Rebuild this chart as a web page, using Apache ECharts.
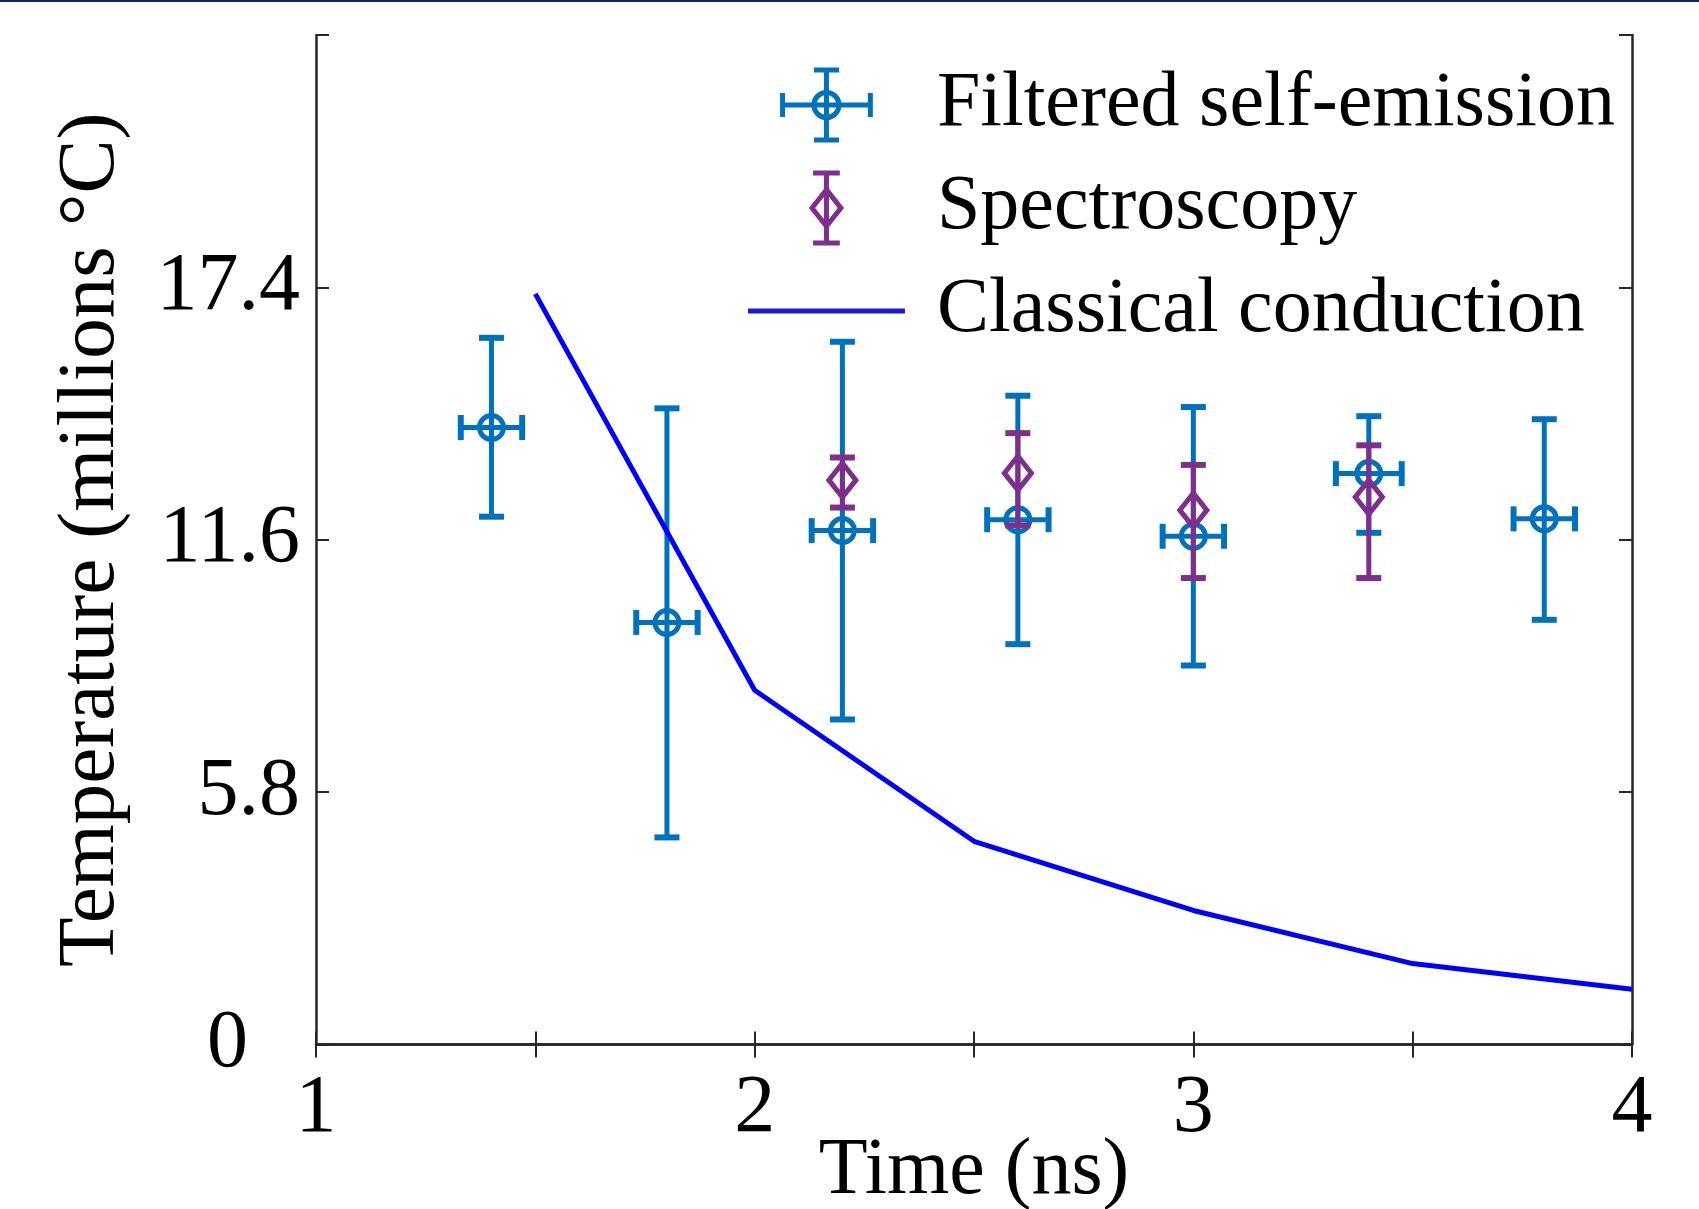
<!DOCTYPE html>
<html>
<head>
<meta charset="utf-8">
<title>Temperature vs time</title>
<script src="https://cdn.jsdelivr.net/npm/echarts@6/dist/echarts.min.js"></script>
<style>
  html, body { margin: 0; padding: 0; background: #fff; }
  #main { width: 1699px; height: 1209px; }
</style>
</head>
<body>
<div id="main"></div>
<script>
// filtered self-emission: time, temperature, error bar ends, time error
var emisX    = [1.4, 1.8, 2.2, 2.6, 3.0, 3.4, 3.8];
var emisY    = [14.18, 9.70, 11.81, 12.06, 11.68, 13.12, 12.08];
var emisLow  = [12.13, 4.76, 7.47, 9.20, 8.71, 11.76, 9.76];
var emisHigh = [16.24, 14.62, 16.15, 14.91, 14.65, 14.44, 14.37];
var emisXErr = [0.07, 0.07, 0.07, 0.07, 0.07, 0.075, 0.07];

// spectroscopy
var specX    = [2.2, 2.6, 3.0, 3.4];
var specY    = [12.97, 13.13, 12.28, 12.58];
var specLow  = [12.34, 11.93, 10.72, 10.72];
var specHigh = [13.49, 14.05, 13.32, 13.77];

// classical conduction model
var condX = [1.5, 2.0, 2.5, 3.0, 3.5, 4.0];
var condY = [17.25, 8.14, 4.67, 3.08, 1.86, 1.27];

var FONT = "'Liberation Serif', 'DejaVu Serif', serif";
var BLUE = '#0072BD';
var PURPLE = '#7E2F8E';
var LINE = '#0000FF';
var AXIS = '#262626';

var chart = echarts.init(document.getElementById('main'));

function seg(a, b, color, w) {
  return {
    type: 'line',
    shape: { x1: a[0], y1: a[1], x2: b[0], y2: b[1] },
    style: { stroke: color, lineWidth: w || 5 }
  };
}

function renderEmission(params, api) {
  var x = api.value(0), y = api.value(1);
  var c = api.coord([x, y]);
  var lo = api.coord([x, api.value(2)]);
  var hi = api.coord([x, api.value(3)]);
  var l = api.coord([x - api.value(4), y]);
  var r = api.coord([x + api.value(4), y]);
  var cap = 12.5;
  return {
    type: 'group',
    children: [
      seg(lo, hi, BLUE),
      seg([lo[0] - cap, lo[1]], [lo[0] + cap, lo[1]], BLUE, 6),
      seg([hi[0] - cap, hi[1]], [hi[0] + cap, hi[1]], BLUE, 6),
      seg(l, r, BLUE),
      seg([l[0], l[1] - cap], [l[0], l[1] + cap], BLUE, 6),
      seg([r[0], r[1] - cap], [r[0], r[1] + cap], BLUE, 6),
      {
        type: 'circle',
        shape: { cx: c[0], cy: c[1], r: 12 },
        style: { stroke: BLUE, lineWidth: 5, fill: null }
      }
    ]
  };
}

function renderSpec(params, api) {
  var x = api.value(0);
  var c = api.coord([x, api.value(1)]);
  var lo = api.coord([x, api.value(2)]);
  var hi = api.coord([x, api.value(3)]);
  var cap = 12.5, dw = 13.5, dh = 17;
  return {
    type: 'group',
    children: [
      seg(lo, hi, PURPLE),
      seg([lo[0] - cap, lo[1]], [lo[0] + cap, lo[1]], PURPLE, 6),
      seg([hi[0] - cap, hi[1]], [hi[0] + cap, hi[1]], PURPLE, 6),
      {
        type: 'polygon',
        shape: { points: [[c[0], c[1] - dh], [c[0] + dw, c[1]], [c[0], c[1] + dh], [c[0] - dw, c[1]]] },
        style: { stroke: PURPLE, lineWidth: 5, fill: null }
      }
    ]
  };
}

var axisLine = { lineStyle: { color: AXIS, width: 2.5 } };
var axisTick = { inside: true, length: 13, lineStyle: { color: AXIS, width: 2 } };
var tickFont = { fontFamily: FONT, fontSize: 82, color: '#000' };

var option = {
  animation: false,
  backgroundColor: '#fff',
  graphic: [
    { type: 'rect', left: 0, top: 0, shape: { width: 1699, height: 2 }, style: { fill: '#0b2b55' } }
  ],
  grid: { left: 316, right: 67, top: 35, bottom: 164.5, outerBoundsMode: 'none' },
  legend: {
    orient: 'vertical',
    right: 84,
    top: 65,
    padding: 0,
    itemWidth: 157,
    itemHeight: 70,
    itemGap: 23,
    selectedMode: false,
    textStyle: { fontFamily: FONT, fontSize: 78, color: '#000', lineHeight: 80, padding: [0, 0, 0, 27] },
    data: [
      {
        name: 'Filtered self-emission',
        icon: 'path://M42,0 V67 M30,0 H54 M30,67 H54 M0,33.5 H84 M0,22 V45 M84,22 V45 M54,33.5 A12,12 0 1,1 30,33.5 A12,12 0 1,1 54,33.5',
        itemStyle: { color: 'rgba(0,0,0,0)', borderColor: BLUE, borderWidth: 5 }
      },
      {
        name: 'Spectroscopy',
        icon: 'path://M16,2 V65 M4,2 H28 M4,65 H28 M16,17 L29,33.5 L16,50 L3,33.5 Z',
        itemStyle: { color: 'rgba(0,0,0,0)', borderColor: PURPLE, borderWidth: 5 }
      },
      {
        name: 'Classical conduction',
        icon: 'path://M0,0 H157 V5 H0 Z',
        itemStyle: { color: '#1a1ad0', borderWidth: 0 }
      }
    ]
  },
  xAxis: [
    {
      type: 'value', min: 1, max: 4, interval: 0.5, position: 'bottom',
      axisLine: axisLine, axisTick: axisTick, splitLine: { show: false },
      axisLabel: Object.assign({
        margin: 24,
        formatter: function (v) { return Number.isInteger(v) ? String(v) : ''; }
      }, tickFont),
      name: 'Time (ns)', nameLocation: 'middle', nameGap: 87, nameMoveOverlap: false,
      nameTextStyle: { fontFamily: FONT, fontSize: 80, color: '#000', lineHeight: 80 }
    },
    {
      type: 'value', min: 1, max: 4, interval: 0.5, position: 'top',
      axisLine: axisLine, axisTick: axisTick, splitLine: { show: false },
      axisLabel: { show: false }
    }
  ],
  yAxis: [
    {
      type: 'value', min: 0, max: 23.2, interval: 5.8, position: 'left',
      axisLine: axisLine, axisTick: axisTick, splitLine: { show: false },
      axisLabel: Object.assign({
        margin: 16,
        formatter: function (v) {
          if (v > 23) return '';
          if (v === 0) return '{zero|0}';
          return String(+v.toFixed(1));
        },
        rich: { zero: Object.assign({ padding: [0, 52, 0, 0] }, tickFont) }
      }, tickFont),
      name: 'Temperature (millions \u00B0C)', nameLocation: 'middle', nameGap: 184, nameMoveOverlap: false,
      nameTextStyle: { fontFamily: FONT, fontSize: 81, color: '#000', lineHeight: 81 }
    },
    {
      type: 'value', min: 0, max: 23.2, interval: 5.8, position: 'right',
      axisLine: axisLine, axisTick: axisTick, splitLine: { show: false },
      axisLabel: { show: false }
    }
  ],
  series: [
    {
      name: 'Filtered self-emission',
      type: 'custom',
      renderItem: renderEmission,
      itemStyle: { color: BLUE },
      encode: { x: 0, y: 1 },
      z: 3,
      data: emisX.map(function (x, i) { return [x, emisY[i], emisLow[i], emisHigh[i], emisXErr[i]]; })
    },
    {
      name: 'Spectroscopy',
      type: 'custom',
      renderItem: renderSpec,
      itemStyle: { color: PURPLE },
      encode: { x: 0, y: 1 },
      z: 4,
      data: specX.map(function (x, i) { return [x, specY[i], specLow[i], specHigh[i]]; })
    },
    {
      name: 'Classical conduction',
      type: 'line',
      showSymbol: false,
      z: 5,
      itemStyle: { color: LINE },
      lineStyle: { color: LINE, width: 5 },
      data: condX.map(function (x, i) { return [x, condY[i]]; })
    }
  ]
};

chart.setOption(option);
</script>
</body>
</html>
